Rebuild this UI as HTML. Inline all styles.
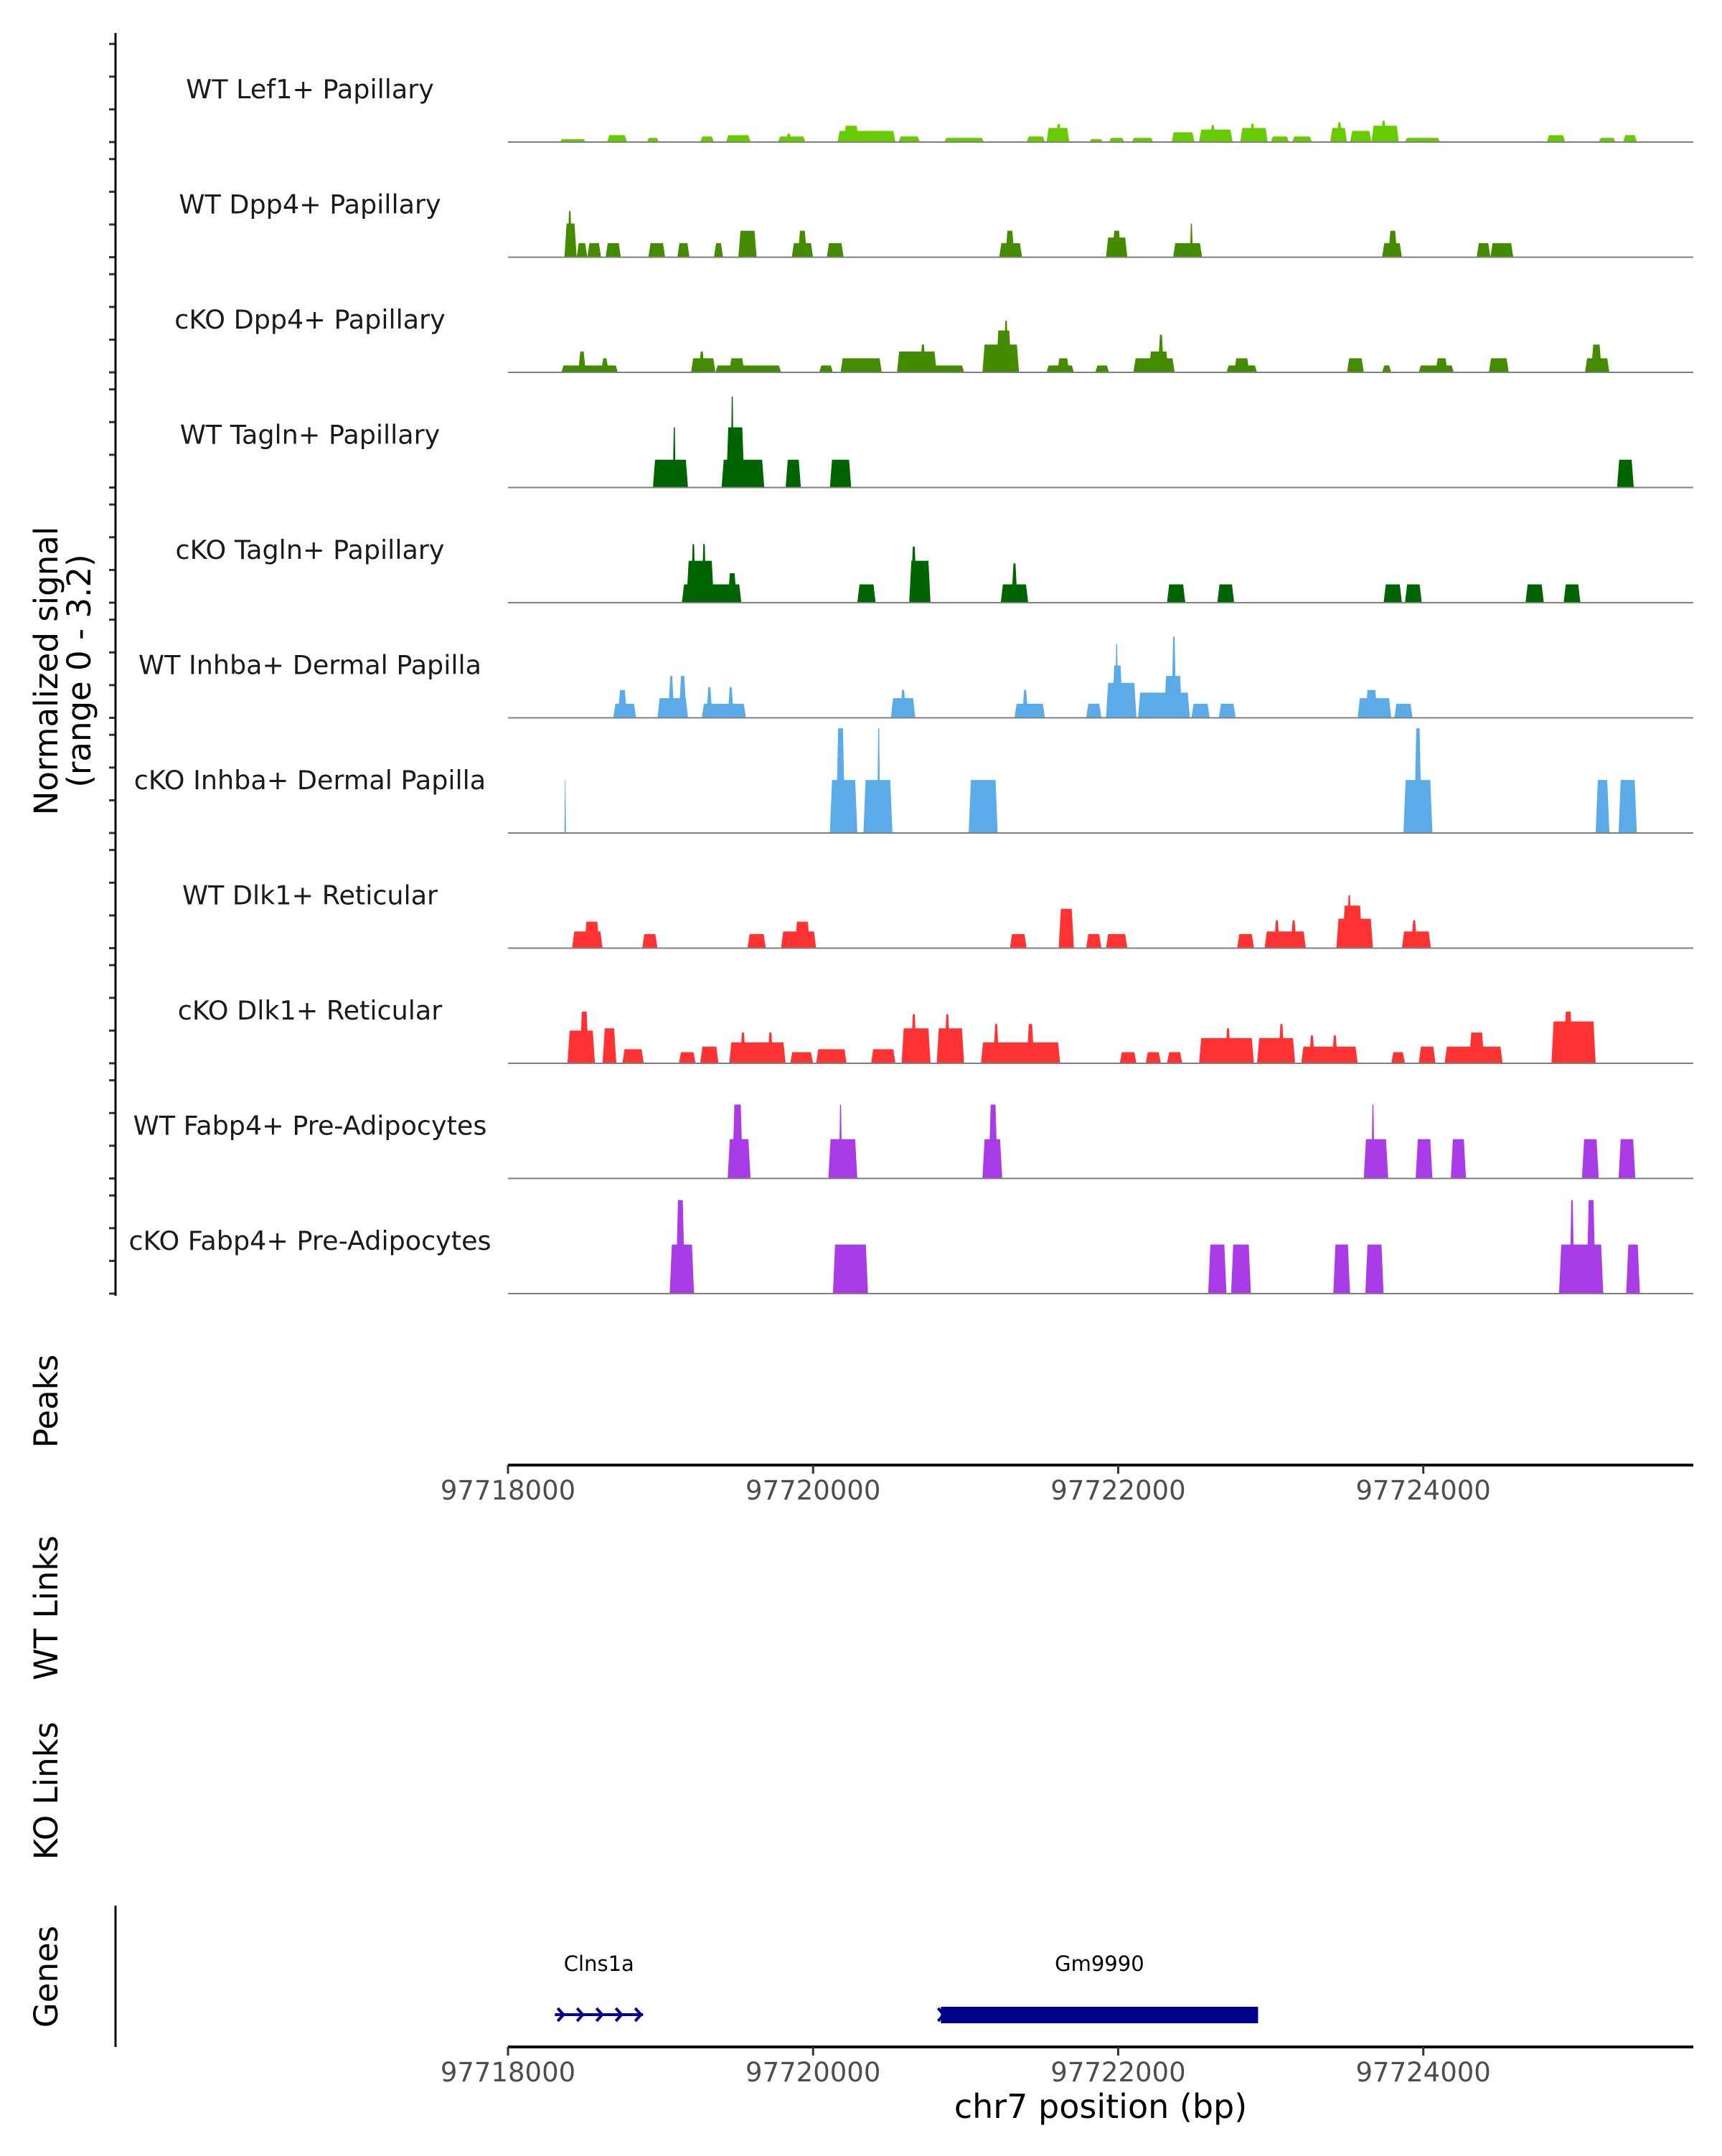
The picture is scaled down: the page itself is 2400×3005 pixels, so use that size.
<!DOCTYPE html>
<html><head><meta charset="utf-8">
<style>
html,body{margin:0;padding:0;background:#fff;}
svg text{font-family:"DejaVu Sans","Liberation Sans",sans-serif;}
</style></head>
<body>
<svg id="chart" width="2400" height="3000" viewBox="0 0 2400 3000" xmlns="http://www.w3.org/2000/svg">
<g id="tracks"></g>
<g id="axes"></g>
<g id="genes"></g>
</svg>
<script>
// region start (bp); positions in data arrays are kb offsets from this
const regionStart = 97718000;
const regionEnd = 97725770;
const xTicks = [97718000, 97720000, 97722000, 97724000];
const xTickLabels = ["97718000", "97720000", "97722000", "97724000"];
const trackNames = ["WT Lef1+ Papillary","WT Dpp4+ Papillary","cKO Dpp4+ Papillary","WT Tagln+ Papillary","cKO Tagln+ Papillary","WT Inhba+ Dermal Papilla","cKO Inhba+ Dermal Papilla","WT Dlk1+ Reticular","cKO Dlk1+ Reticular","WT Fabp4+ Pre-Adipocytes","cKO Fabp4+ Pre-Adipocytes"];
const trackColors = ["#66cc00","#448b00","#448b00","#006400","#006400","#5aabe8","#5aabe8","#ff3333","#ff3333","#aa3ce8","#aa3ce8"];
const yMax = 3.2;
// blocks: [start kb, end kb, signal]
const lef1WT = [[0.34,0.51,0.09],[0.65,0.78,0.21],[0.91,0.99,0.13],[1.26,1.35,0.17],[1.43,1.59,0.21],[1.77,1.95,0.17],[1.82,1.86,0.26],[2.16,2.54,0.34],[2.2,2.3,0.5],[2.56,2.70,0.17],[2.86,3.12,0.13],[3.40,3.52,0.17],[3.53,3.68,0.43],[3.59,3.63,0.55],[3.81,3.90,0.09],[3.94,4.04,0.13],[4.09,4.23,0.13],[4.35,4.50,0.30],[4.53,4.75,0.38],[4.6,4.64,0.52],[4.80,4.98,0.43],[4.86,4.9,0.56],[5.00,5.12,0.17],[5.14,5.27,0.17],[5.39,5.50,0.43],[5.43,5.47,0.6],[5.52,5.66,0.34],[5.66,5.84,0.5],[5.72,5.76,0.65],[5.88,6.11,0.13],[6.81,6.93,0.21],[7.15,7.26,0.13],[7.31,7.40,0.21]];
const dpp4WT = [[0.37,0.45,1.03],[0.39,0.42,1.41],[0.45,0.52,0.43],[0.52,0.61,0.43],[0.64,0.74,0.43],[0.92,1.03,0.43],[1.11,1.19,0.43],[1.35,1.41,0.43],[1.51,1.63,0.81],[1.86,2.00,0.43],[1.90,1.96,0.81],[2.09,2.20,0.43],[3.22,3.37,0.43],[3.26,3.32,0.81],[3.92,4.06,0.6],[3.96,4.02,0.81],[4.36,4.55,0.43],[4.47,4.49,1.03],[5.73,5.86,0.43],[5.77,5.83,0.81],[6.35,6.44,0.43],[6.44,6.59,0.43]];
const dpp4KO = [[0.35,0.72,0.21],[0.46,0.51,0.64],[0.61,0.66,0.43],[1.20,1.36,0.43],[1.25,1.29,0.64],[1.36,1.79,0.21],[1.45,1.55,0.43],[2.04,2.13,0.21],[2.18,2.45,0.43],[2.55,2.99,0.21],[2.55,2.81,0.64],[2.70,2.74,0.85],[3.11,3.35,0.85],[3.20,3.30,1.28],[3.25,3.28,1.58],[3.53,3.71,0.21],[3.60,3.68,0.43],[3.85,3.94,0.21],[4.10,4.37,0.43],[4.20,4.33,0.64],[4.26,4.30,1.15],[4.71,4.91,0.21],[4.76,4.86,0.43],[5.50,5.61,0.43],[5.73,5.79,0.21],[5.97,6.20,0.21],[6.08,6.16,0.43],[6.43,6.56,0.43],[7.06,7.22,0.43],[7.10,7.17,0.85]];
const taglnWT = [[0.95,1.18,0.85],[1.08,1.10,1.84],[1.40,1.68,0.85],[1.43,1.55,1.84],[1.46,1.48,2.78],[1.82,1.92,0.85],[2.11,2.25,0.85],[7.27,7.38,0.85]];
const taglnKO = [[1.14,1.53,0.56],[1.17,1.35,1.28],[1.20,1.23,1.79],[1.27,1.30,1.79],[1.44,1.50,0.9],[2.29,2.41,0.56],[2.63,2.77,1.28],[2.64,2.68,1.71],[3.23,3.41,0.56],[3.30,3.34,1.2],[4.32,4.44,0.56],[4.65,4.76,0.56],[5.74,5.86,0.56],[5.88,5.99,0.56],[6.67,6.79,0.56],[6.92,7.03,0.56]];
const inhbaWT = [[0.69,0.84,0.43],[0.72,0.78,0.85],[0.98,1.18,0.6],[1.05,1.09,1.28],[1.12,1.17,1.28],[1.27,1.56,0.43],[1.30,1.34,0.94],[1.44,1.48,0.94],[2.51,2.67,0.6],[2.57,2.61,0.85],[3.32,3.52,0.43],[3.37,3.41,0.85],[3.79,3.89,0.43],[3.92,4.12,1.07],[3.96,4.03,1.6],[3.98,4.00,2.26],[4.13,4.47,0.77],[4.30,4.42,1.28],[4.35,4.38,2.48],[4.48,4.60,0.43],[4.66,4.77,0.43],[5.57,5.79,0.6],[5.62,5.70,0.85],[5.81,5.93,0.43]];
const inhbaKO = [[0.37,0.38,1.62],[2.11,2.29,1.62],[2.15,2.21,3.2],[2.33,2.52,1.62],[2.42,2.44,3.2],[3.02,3.21,1.62],[5.87,6.06,1.62],[5.94,5.99,3.2],[7.13,7.22,1.62],[7.28,7.40,1.62]];
const dlk1WT = [[0.42,0.62,0.51],[0.50,0.60,0.81],[0.88,0.98,0.43],[1.57,1.69,0.43],[1.79,2.02,0.51],[1.88,1.98,0.81],[3.29,3.40,0.43],[3.61,3.71,1.2],[3.79,3.89,0.43],[3.92,4.06,0.43],[4.78,4.89,0.43],[4.96,5.23,0.51],[5.02,5.06,0.85],[5.13,5.17,0.85],[5.43,5.67,0.9],[5.47,5.60,1.3],[5.50,5.53,1.62],[5.86,6.05,0.51],[5.92,5.96,0.85]];
const dlk1KO = [[0.39,0.57,1.0],[0.47,0.53,1.58],[0.62,0.71,1.07],[0.75,0.89,0.43],[1.12,1.23,0.34],[1.26,1.38,0.51],[1.45,1.82,0.64],[1.52,1.56,0.94],[1.70,1.74,0.94],[1.85,2.00,0.34],[2.02,2.22,0.43],[2.38,2.54,0.43],[2.58,2.77,1.07],[2.64,2.68,1.5],[2.81,2.99,1.07],[2.86,2.90,1.5],[3.10,3.62,0.64],[3.18,3.22,1.2],[3.40,3.45,1.2],[4.01,4.12,0.34],[4.18,4.28,0.34],[4.32,4.42,0.34],[4.53,4.89,0.77],[4.70,4.74,1.07],[4.91,5.16,0.77],[5.05,5.09,1.2],[5.20,5.57,0.51],[5.25,5.29,0.85],[5.40,5.44,0.85],[5.79,5.88,0.34],[5.97,6.08,0.51],[6.14,6.52,0.51],[6.30,6.40,0.94],[6.84,7.13,1.28],[6.92,6.98,1.58]];
const fabp4WT = [[1.44,1.59,1.2],[1.47,1.54,2.26],[2.10,2.29,1.2],[2.17,2.19,2.26],[3.11,3.24,1.2],[3.15,3.21,2.26],[5.61,5.77,1.2],[5.66,5.68,2.26],[5.95,6.06,1.2],[6.18,6.28,1.2],[7.04,7.15,1.2],[7.28,7.39,1.2]];
const fabp4KO = [[1.06,1.22,1.5],[1.10,1.16,2.86],[2.13,2.36,1.5],[4.59,4.71,1.5],[4.74,4.87,1.5],[5.41,5.52,1.5],[5.62,5.74,1.5],[6.89,7.18,1.5],[6.96,6.99,2.86],[7.07,7.13,2.86],[7.33,7.42,1.5]];
const trackData = [lef1WT,dpp4WT,dpp4KO,taglnWT,taglnKO,inhbaWT,inhbaKO,dlk1WT,dlk1KO,fabp4WT,fabp4KO];
const geneNames = ["Clns1a","Gm9990"];
const geneStarts = [97718307, 97720838];
const geneEnds = [97718886, 97722917];

const NS="http://www.w3.org/2000/svg";
const X0=708, X1=2360;
function xScale(bp){return X0+(bp-regionStart)/(regionEnd-regionStart)*(X1-X0);}
function xKb(kb){return xScale(regionStart+kb*1000);}
const firstBase=198, trackStep=160.5, unitPx=45.6;
function yScale(v,i){return firstBase+i*trackStep - v*unitPx;}
function mk(tag,attrs,parent){const e=document.createElementNS(NS,tag);for(const k in attrs)e.setAttribute(k,attrs[k]);parent.appendChild(e);return e;}
const gT=document.getElementById('tracks'), gA=document.getElementById('axes'), gG=document.getElementById('genes');

trackData.forEach((blocks,i)=>{
  const base=yScale(0,i);
  const g=mk('g',{},gT);
  
  
  blocks.forEach(b=>{
    const xa=xKb(b[0]), xb=xKb(b[1]), yt=yScale(b[2],i);
    const r=Math.min(3,(xb-xa)/3);
    const p=mk('polygon',{points:`${xa},${base} ${xa+r},${yt} ${xb-r},${yt} ${xb},${base}`,fill:trackColors[i]},g);
    
    
  });
  const bl=mk('line',{x1:X0,x2:X1,y1:base,y2:base,stroke:'#7f7f7f','stroke-width':2},g);
  
  
  const t=mk('text',{x:432,y:base-61,'font-size':36.5,'text-anchor':'middle',fill:'#1a1a1a'},g);
  t.textContent=trackNames[i];
  
  
  for(let k=0;k<=3;k++){
    const ty=yScale(k,i);
    const tk=mk('line',{x1:152,x2:161,y1:ty,y2:ty,stroke:'#333','stroke-width':3},gA);
    
    
  }
});
// y axis line
const ya=mk('line',{x1:161,x2:161,y1:46,y2:1806,stroke:'#000','stroke-width':3},gA);


const yt=mk('text',{transform:'translate(80,935) rotate(-90)','font-size':45,'text-anchor':'middle',fill:'#000'},gA);


yt.innerHTML='<tspan x="0" dy="0">Normalized signal</tspan><tspan x="0" dy="46">(range 0 - 3.2)</tspan>';

function sideLabel(txt,y,name){
  const t=mk('text',{transform:`translate(80,${y}) rotate(-90)`,'font-size':45,'text-anchor':'middle',fill:'#000'},gA);
  t.textContent=txt;
  
  
}
sideLabel('Peaks',1953,'peaks-label');
sideLabel('WT Links',2241,'wt-links-label');
sideLabel('KO Links',2496,'ko-links-label');
sideLabel('Genes',2755,'genes-label');

function xAxis(y,name){
  const l=mk('line',{x1:X0,x2:X1,y1:y,y2:y,stroke:'#000','stroke-width':4},gA);
  
  
  xTicks.forEach((v,j)=>{
    const x=xScale(v);
    const tk=mk('line',{x1:x,x2:x,y1:y,y2:y+12,stroke:'#333','stroke-width':3},gA);
    
    
    const t=mk('text',{x:x,y:y+48,'font-size':37,'text-anchor':'middle',fill:'#4d4d4d'},gA);
    t.textContent=xTickLabels[j];
    
    
  });
}
xAxis(2042,'peaks-x-axis');
xAxis(2853,'genes-x-axis');
const xt=mk('text',{x:1534,y:2952,'font-size':46,'text-anchor':'middle',fill:'#000'},gA);
xt.textContent='chr7 position (bp)';


const ga=mk('line',{x1:161,x2:161,y1:2656,y2:2853,stroke:'#000','stroke-width':3},gA);



// genes
geneNames.forEach((n,j)=>{
  const xa=xScale(geneStarts[j]), xb=xScale(geneEnds[j]);
  const g=mk('g',{},gG);
  
  
  const t=mk('text',{x:(xa+xb)/2,y:2747,'font-size':29,'text-anchor':'middle',fill:'#000'},g);
  t.textContent=n;
  
  
  mk('line',{x1:xa,x2:xb,y1:2808,y2:2808,stroke:'#00008b','stroke-width':4},g);
  if(j===0){
    for(let x=xa+4;x<xb;x+=27){
      mk('polyline',{points:`${x},2799 ${x+8},2808 ${x},2817`,fill:'none',stroke:'#00008b','stroke-width':4},g);
    }
  } else {
    mk('rect',{x:xa,y:2797,width:xb-xa,height:23,fill:'#00008b'},g);
    mk('polyline',{points:`${xa-4},2799 ${xa+4},2808 ${xa-4},2817`,fill:'none',stroke:'#00008b','stroke-width':4},g);
  }
});
</script>
</body></html>
